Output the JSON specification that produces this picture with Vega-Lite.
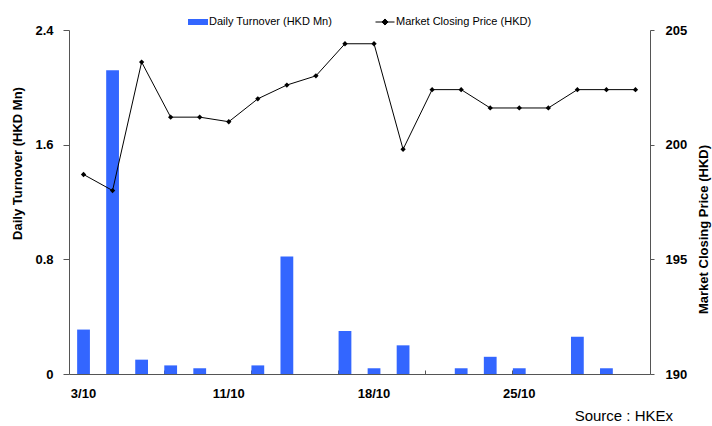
{
  "$schema": "https://vega.github.io/schema/vega-lite/v6.json",
  "autosize": "none",
  "width": 581,
  "height": 344,
  "padding": {"left": 69, "top": 30, "right": 62, "bottom": 52},
  "background": "white",
  "config": {
    "view": {"stroke": null},
    "font": "Liberation Sans",
    "axis": {"grid": false, "labelFont": "Liberation Sans", "titleFont": "Liberation Sans", "labelFontSize": 13, "labelFontWeight": "bold", "titleFontSize": 13, "titleFontWeight": "bold", "labelColor": "black", "titleColor": "black", "domainColor": "#555", "tickColor": "#555"},
    "legend": {"labelFont": "Liberation Sans", "labelFontSize": 11, "labelColor": "black"}
  },
  "title": {"text": "Source : HKEx", "orient": "bottom", "anchor": "end", "frame": "group", "fontSize": 15, "fontWeight": "normal", "font": "Liberation Sans", "color": "black", "dx": 23, "offset": 9},
  "data": {"values": [
    {"date": "3/10", "turnover": 0.31, "price": 198.7},
    {"date": "4/10", "turnover": 2.12, "price": 198.0},
    {"date": "6/10", "turnover": 0.1, "price": 203.6},
    {"date": "7/10", "turnover": 0.06, "price": 201.2},
    {"date": "10/10", "turnover": 0.04, "price": 201.2},
    {"date": "11/10", "turnover": 0, "price": 201.0},
    {"date": "12/10", "turnover": 0.06, "price": 202.0},
    {"date": "13/10", "turnover": 0.82, "price": 202.6},
    {"date": "14/10", "turnover": 0, "price": 203.0},
    {"date": "17/10", "turnover": 0.3, "price": 204.4},
    {"date": "18/10", "turnover": 0.04, "price": 204.4},
    {"date": "19/10", "turnover": 0.2, "price": 199.8},
    {"date": "20/10", "turnover": 0, "price": 202.4},
    {"date": "21/10", "turnover": 0.04, "price": 202.4},
    {"date": "24/10", "turnover": 0.12, "price": 201.6},
    {"date": "25/10", "turnover": 0.04, "price": 201.6},
    {"date": "26/10", "turnover": 0, "price": 201.6},
    {"date": "27/10", "turnover": 0.26, "price": 202.4},
    {"date": "28/10", "turnover": 0.04, "price": 202.4},
    {"date": "31/10", "turnover": 0, "price": 202.4}
  ]},
  "layer": [
    {
      "mark": {"type": "bar"},
      "encoding": {
        "x": {"field": "date", "type": "nominal", "sort": null,
              "scale": {"paddingInner": 0.56, "paddingOuter": 0.28},
              "axis": {"orient": "bottom", "title": null, "values": ["3/10", "11/10", "18/10", "25/10"], "ticks": false, "labelAngle": 0, "labelPadding": 13, "domainColor": "#555"}},
        "y": {"field": "turnover", "type": "quantitative",
              "scale": {"domain": [0, 2.4], "nice": false},
              "axis": {"orient": "left", "title": "Daily Turnover (HKD Mn)", "values": [0, 0.8, 1.6, 2.4], "format": "~g", "tickSize": 6, "labelPadding": 10, "titleY": 133, "titlePadding": 10}},
        "fill": {"datum": "Daily Turnover (HKD Mn)", "type": "nominal",
                 "scale": {"range": ["#3366ff"]},
                 "legend": {"title": null, "orient": "none", "legendX": 119, "legendY": -18, "symbolType": "M-1,-0.3H1V0.3H-1Z", "symbolSize": 400, "symbolStrokeWidth": 0, "labelOffset": 1}}
      }
    },
    {
      "mark": {"type": "line", "strokeWidth": 1},
      "encoding": {
        "x": {"field": "date", "type": "nominal", "sort": null,
              "axis": {"orient": "bottom", "title": null, "labels": false, "domain": false, "values": ["7/10", "12/10", "17/10", "20/10", "25/10", "28/10"], "bandPosition": 0, "tickSize": -4, "tickColor": "#555"}},
        "y": {"field": "price", "type": "quantitative",
              "scale": {"domain": [190, 205], "nice": false, "zero": false},
              "axis": {"orient": "right", "title": "Market Closing Price (HKD)", "values": [190, 195, 200, 205], "tickSize": 4, "labelPadding": 11, "titleAngle": -90, "titleY": 199, "titlePadding": 24}},
        "stroke": {"datum": "Market Closing Price (HKD)", "type": "nominal",
                   "scale": {"range": ["black"]},
                   "legend": {"title": null, "orient": "none", "legendX": 306, "legendY": -18, "symbolType": "M-1,0H1M-0.32,0L0,-0.32L0.32,0L0,0.32Z", "symbolSize": 361, "symbolStrokeWidth": 1, "symbolFillColor": "black", "labelOffset": 1}}
      }
    },
    {
      "mark": {"type": "point", "shape": "diamond", "filled": true, "color": "black", "size": 28, "opacity": 1},
      "encoding": {
        "x": {"field": "date", "type": "nominal", "sort": null, "axis": null},
        "y": {"field": "price", "type": "quantitative", "scale": {"domain": [190, 205], "nice": false, "zero": false}, "axis": null}
      }
    }
  ],
  "resolve": {"scale": {"y": "independent"}, "axis": {"x": "independent", "y": "independent"}}
}
